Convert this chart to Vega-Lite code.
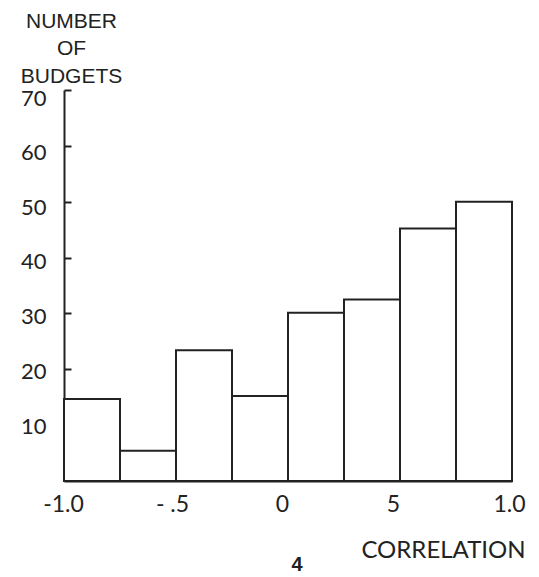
{
  "$schema": "https://vega.github.io/schema/vega-lite/v6.json",
  "width": 448,
  "height": 391,
  "autosize": "none",
  "padding": {"left": 64, "top": 90, "right": 27, "bottom": 96},
  "background": "white",
  "config": {"view": {"stroke": null}},
  "title": {"text": "4", "orient": "bottom", "anchor": "middle", "frame": "group", "fontWeight": "bold", "fontSize": 20, "font": "Liberation Sans", "color": "#222", "dx": 9, "offset": -7},
  "data": {"values": [
    {"start": -1.0, "end": -0.75, "count": 14.7},
    {"start": -0.75, "end": -0.5, "count": 5.4},
    {"start": -0.5, "end": -0.25, "count": 23.4},
    {"start": -0.25, "end": 0.0, "count": 15.2},
    {"start": 0.0, "end": 0.25, "count": 30.1},
    {"start": 0.25, "end": 0.5, "count": 32.5},
    {"start": 0.5, "end": 0.75, "count": 45.2},
    {"start": 0.75, "end": 1.0, "count": 50.0}
  ]},
  "mark": {"type": "rect", "fill": "white", "stroke": "#222", "strokeWidth": 2},
  "encoding": {
    "x": {"field": "start", "type": "quantitative",
      "scale": {"domain": [-1, 1], "nice": false, "zero": false},
      "axis": {"values": [-1, -0.5, 0, 0.5, 1], "labelExpr": "datum.value == -1 ? '-1.0' : datum.value == -0.5 ? '- .5' : datum.value == 0 ? '0' : datum.value == 0.5 ? '5' : '1.0'",
        "labelOffset": {"condition": [
          {"test": "datum.value == -0.5", "value": -4},
          {"test": "datum.value == 0", "value": -6},
          {"test": "datum.value == 0.5", "value": -7},
          {"test": "datum.value == 1", "value": -3}
        ], "value": -1},
        "ticks": false, "grid": false, "domainColor": "#222", "domainWidth": 2,
        "labelFont": "Lato", "labelFontSize": 23, "labelColor": "#222", "labelPadding": 12,
        "labelFlush": false, "labelOverlap": false,
        "title": "CORRELATION", "titleFont": "Lato", "titleFontSize": 24, "titleFontWeight": "normal", "titleColor": "#222",
        "titleAnchor": "start", "titleAlign": "center", "titleX": 379, "titleY": 76, "titleBaseline": "alphabetic"}},
    "x2": {"field": "end"},
    "y": {"field": "count", "type": "quantitative",
      "scale": {"domain": [0, 70], "nice": false},
      "axis": {"values": [10, 20, 30, 40, 50, 60, 70], "grid": false, "tickSize": -7, "tickWidth": 2, "tickColor": "#222",
        "domainColor": "#222", "domainWidth": 2,
        "labelFont": "Lato", "labelFontSize": 22, "labelColor": "#222", "labelPadding": 25,
        "labelOffset": {"condition": [
          {"test": "datum.value == 70", "value": 8},
          {"test": "datum.value == 60", "value": 7},
          {"test": "datum.value == 50", "value": 6},
          {"test": "datum.value == 40", "value": 4},
          {"test": "datum.value == 30", "value": 3},
          {"test": "datum.value == 20", "value": 2}
        ], "value": 1},
        "title": ["NUMBER", "OF", "BUDGETS"], "titleAngle": 0, "titleAlign": "center", "titleBaseline": "alphabetic",
        "titleX": 7, "titleY": -63, "titleLineHeight": 27.5, "titleFont": "Liberation Sans", "titleFontSize": 21, "titleFontWeight": "normal", "titleColor": "#222"}},
    "y2": {"datum": 0}
  }
}
